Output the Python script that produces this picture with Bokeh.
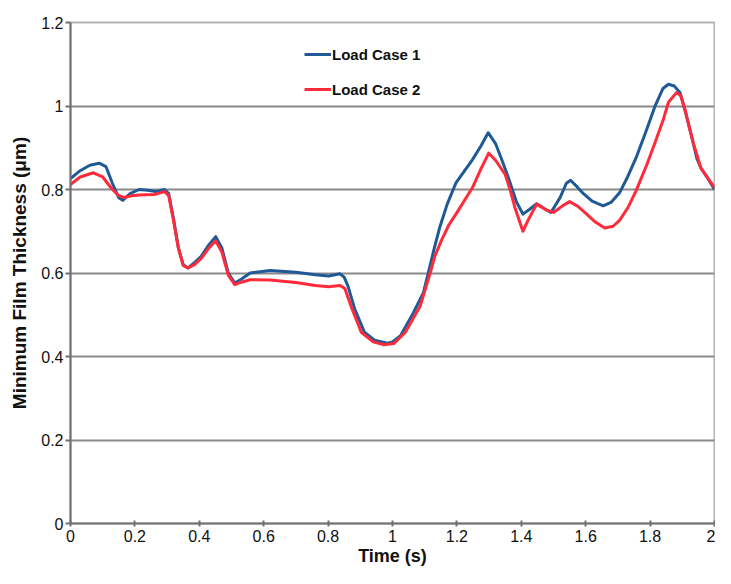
from bokeh.plotting import figure
from bokeh.models import Range1d, FixedTicker, Legend, LegendItem
from bokeh.embed import file_html
from bokeh.resources import INLINE

# Time (s)
time_1 = [0.000, 0.030, 0.060, 0.089, 0.110, 0.130, 0.150, 0.162, 0.185, 0.213, 0.240, 0.264, 0.292,
          0.305, 0.320, 0.335, 0.350, 0.365, 0.385, 0.406, 0.430, 0.451, 0.470, 0.490, 0.510, 0.530,
          0.558, 0.620, 0.700, 0.760, 0.802, 0.837, 0.850, 0.862, 0.883, 0.913, 0.944, 0.984, 1.000,
          1.025, 1.065, 1.096, 1.111, 1.130, 1.147, 1.170, 1.197, 1.248, 1.275, 1.297, 1.320, 1.340,
          1.360, 1.385, 1.405, 1.425, 1.448, 1.470, 1.492, 1.520, 1.540, 1.553, 1.575, 1.593, 1.620,
          1.654, 1.680, 1.705, 1.730, 1.756, 1.790, 1.816, 1.840, 1.857, 1.875, 1.893, 1.910, 1.928,
          1.945, 1.958, 1.980, 2.000]
# Minimum film thickness, Load Case 1 (um)
case_1 = [0.826, 0.845, 0.858, 0.863, 0.855, 0.815, 0.780, 0.774, 0.790, 0.800, 0.798, 0.795, 0.800,
          0.790, 0.730, 0.660, 0.620, 0.612, 0.625, 0.640, 0.668, 0.687, 0.660, 0.600, 0.576, 0.585,
          0.600, 0.606, 0.602, 0.596, 0.593, 0.598, 0.590, 0.568, 0.513, 0.458, 0.439, 0.432, 0.435,
          0.450, 0.505, 0.553, 0.600, 0.660, 0.710, 0.765, 0.816, 0.871, 0.905, 0.936, 0.910, 0.870,
          0.828, 0.770, 0.741, 0.752, 0.766, 0.755, 0.745, 0.780, 0.815, 0.822, 0.805, 0.790, 0.772,
          0.761, 0.770, 0.792, 0.830, 0.875, 0.945, 1.001, 1.042, 1.052, 1.048, 1.032, 0.985, 0.930,
          0.875, 0.851, 0.826, 0.800]

time_2 = [0.000, 0.030, 0.071, 0.100, 0.130, 0.150, 0.167, 0.190, 0.213, 0.260, 0.292, 0.305, 0.320,
          0.335, 0.350, 0.365, 0.385, 0.406, 0.430, 0.451, 0.470, 0.490, 0.510, 0.530, 0.558, 0.620,
          0.700, 0.760, 0.802, 0.837, 0.852, 0.873, 0.903, 0.940, 0.974, 1.004, 1.040, 1.086, 1.117,
          1.131, 1.152, 1.175, 1.197, 1.248, 1.275, 1.299, 1.320, 1.350, 1.365, 1.380, 1.405, 1.420,
          1.448, 1.475, 1.500, 1.530, 1.550, 1.575, 1.603, 1.630, 1.659, 1.685, 1.705, 1.730, 1.756,
          1.790, 1.816, 1.840, 1.857, 1.882, 1.895, 1.908, 1.920, 1.933, 1.958, 1.980, 2.000]
# Minimum film thickness, Load Case 2 (um)
case_2 = [0.812, 0.830, 0.840, 0.830, 0.800, 0.785, 0.781, 0.785, 0.787, 0.788, 0.795, 0.785, 0.725,
          0.660, 0.618, 0.612, 0.620, 0.635, 0.660, 0.677, 0.650, 0.595, 0.572, 0.578, 0.584, 0.583,
          0.577, 0.570, 0.567, 0.570, 0.563, 0.517, 0.458, 0.435, 0.428, 0.431, 0.458, 0.521, 0.600,
          0.639, 0.678, 0.715, 0.741, 0.804, 0.850, 0.887, 0.870, 0.836, 0.800, 0.757, 0.700, 0.725,
          0.765, 0.752, 0.745, 0.762, 0.771, 0.760, 0.741, 0.722, 0.708, 0.712, 0.726, 0.755, 0.796,
          0.860, 0.914, 0.965, 1.009, 1.032, 1.025, 0.993, 0.955, 0.914, 0.851, 0.826, 0.805]

x_ticks = [0, 0.2, 0.4, 0.6, 0.8, 1, 1.2, 1.4, 1.6, 1.8, 2]
x_labels = ["0", "0.2", "0.4", "0.6", "0.8", "1", "1.2", "1.4", "1.6", "1.8", "2"]
y_ticks = [0, 0.2, 0.4, 0.6, 0.8, 1, 1.2]
y_labels = ["0", "0.2", "0.4", "0.6", "0.8", "1", "1.2"]

series_names = ["Load Case 1", "Load Case 2"]
BLUE = "#1f5a97"
RED = "#ff2b3b"
FONT = "Liberation Sans"
GRID = "#8a8a8a"

p = figure(width=715, height=568, output_backend="svg", toolbar_location=None,
           x_range=Range1d(0, 2), y_range=Range1d(0, 1.2),
           min_border_left=70, min_border_right=1, min_border_top=22, min_border_bottom=40)
p.background_fill_color = "white"
p.border_fill_color = "white"
p.outline_line_color = "#b5b5b5"
p.outline_line_width = 2

r1 = p.line(time_1, case_1, line_color=BLUE, line_width=3, line_join="round")
r2 = p.line(time_2, case_2, line_color=RED, line_width=3, line_join="round")

p.xgrid.visible = False
p.ygrid.grid_line_color = GRID
p.ygrid.grid_line_width = 2

p.xaxis.ticker = FixedTicker(ticks=x_ticks)
p.yaxis.ticker = FixedTicker(ticks=y_ticks)
p.xaxis.major_label_overrides = {t: l for t, l in zip(x_ticks, x_labels)}
p.yaxis.major_label_overrides = {t: l for t, l in zip(y_ticks, y_labels)}

for ax in (p.xaxis, p.yaxis):
    ax.axis_line_color = "#707070"
    ax.axis_line_width = 2
    ax.major_tick_line_color = "#707070"
    ax.major_tick_line_width = 2
    ax.minor_tick_line_color = None
    ax.major_label_text_font = FONT
    ax.major_label_text_font_size = "16px"
    ax.major_label_text_color = "#111111"
    ax.axis_label_text_font = FONT
    ax.axis_label_text_font_style = "bold"
    ax.axis_label_text_color = "#111111"

p.xaxis.axis_label_text_font_size = "18px"
p.yaxis.axis_label_text_font_size = "19px"
p.xaxis.major_tick_in = 3
p.xaxis.major_tick_out = 3
p.yaxis.major_tick_in = 0
p.yaxis.major_tick_out = 5
p.xaxis.major_label_standoff = 3
p.yaxis.major_label_standoff = 2
p.xaxis.axis_label = "Time (s)"
p.yaxis.axis_label = "Minimum Film Thickness (\u03bcm)"
p.xaxis.axis_label_standoff = 1
p.yaxis.axis_label_standoff = 8

legend = Legend(items=[LegendItem(label=series_names[0], renderers=[r1]),
                       LegendItem(label=series_names[1], renderers=[r2])],
                location=(234, 424))
legend.background_fill_alpha = 0
legend.border_line_color = None
legend.label_text_font = FONT
legend.label_text_font_style = "bold"
legend.label_text_font_size = "15px"
legend.label_text_color = "#111111"
legend.glyph_width = 27
legend.glyph_height = 20
legend.label_height = 20
legend.label_standoff = 1
legend.spacing = 15
legend.padding = 0
legend.margin = 0
p.add_layout(legend, "center")

open("out.html", "w").write(file_html(p, INLINE))
